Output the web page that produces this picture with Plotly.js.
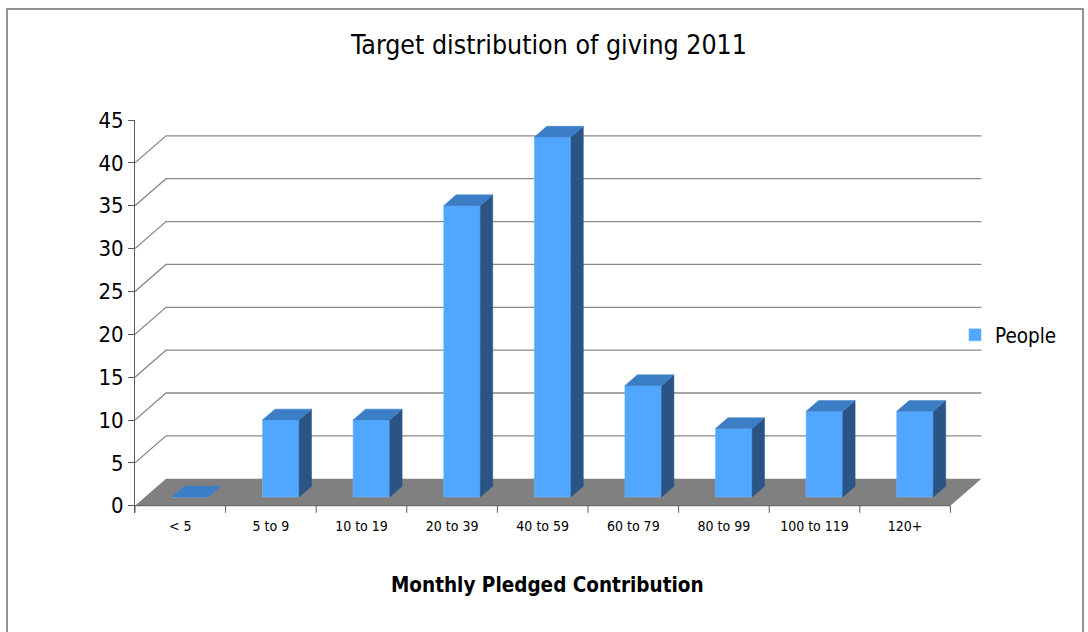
<!DOCTYPE html>
<html>
<head>
<meta charset="utf-8">
<script src="https://cdn.plot.ly/plotly-3.0.1.min.js"></script>
<style>
  html, body { margin: 0; padding: 0; background: #ffffff; }
  #chart { width: 1088px; height: 632px; }
</style>
</head>
<body>
<div id="chart"></div>
<script>
// ---- data ----
const categories = ['< 5', '5 to 9', '10 to 19', '20 to 39', '40 to 59', '60 to 79', '80 to 99', '100 to 119', '120+'];
const people = [0, 9, 9, 34, 42, 13, 8, 10, 10];
const yTickValues = [0, 5, 10, 15, 20, 25, 30, 35, 40, 45];
const backGridValues = [5, 10, 15, 20, 25, 30, 35, 40];
const seriesName = 'People';
const chartTitle = 'Target distribution of giving 2011';
const xTitle = 'Monthly Pledged Contribution';

// ---- geometry (pixels -> axis units) ----
const M = { l: 135, r: 98, t: 120, b: 119 };
const plotW = 1088 - M.l - M.r;
const plotH = 632 - M.t - M.b;
const pxPerX = 90.6;
const yMin = -0.85, yMax = 45;
const pxPerY = plotH / (yMax - yMin);
const xRange = [-0.5, -0.5 + plotW / pxPerX];
const FX = 31 / pxPerX, FY = 27 / pxPerY;       // floor depth
const frontFrac = 0.32, depthFrac = 0.40;        // bar position within depth
const bdx0 = frontFrac * FX, bdy0 = frontFrac * FY;
const bdx = depthFrac * FX, bdy = depthFrac * FY;
const barW = 0.404;
const n = categories.length;
const xIdx = categories.map((c, i) => i);
const xLeft = -0.5, xRight = n - 0.5;

// paper helpers
const pX = px => (px - M.l) / plotW;
const pY = py => (632 - M.b - py) / plotH;

// ---- shapes below traces: floor + back-wall grid ----
const shapes = [];
shapes.push({
  type: 'path', layer: 'below', xref: 'x', yref: 'y',
  path: `M${xLeft},0 L${xRight},0 L${xRight + FX},${FY} L${xLeft + FX},${FY} Z`,
  fillcolor: '#808080', line: { width: 0 }
});
backGridValues.forEach(v => {
  shapes.push({
    type: 'path', layer: 'below', xref: 'x', yref: 'y',
    path: `M${xLeft},${v} L${xLeft + FX},${v + FY} L${xRight + FX},${v + FY}`,
    line: { color: '#8a8a8a', width: 1.3 }
  });
});
// outer frame
shapes.push({
  type: 'path', xref: 'paper', yref: 'paper', layer: 'above',
  path: `M${pX(7)},${pY(700)} L${pX(7)},${pY(9)} L${pX(1083)},${pY(9)} L${pX(1083)},${pY(700)}`,
  line: { color: '#707070', width: 1.5 }
});

// ---- bar faces built from the data ----
const topX = [], topY = [], sideX = [], sideY = [];
people.forEach((v, i) => {
  const x0 = i + bdx0 - barW / 2, x1 = x0 + barW;
  const yb = bdy0, yt = bdy0 + v;
  topX.push(x0, x1, x1 + bdx, x0 + bdx, x0, null);
  topY.push(yt, yt, yt + bdy, yt + bdy, yt, null);
  if (v > 0) {
    sideX.push(x1, x1, x1 + bdx, x1 + bdx, x1, null);
    sideY.push(yb, yt, yt + bdy, yb + bdy, yb, null);
  }
});

// x axis line + tick marks
const axX = [xLeft, xRight, null], axY = [0, 0, null];
for (let k = 0; k <= n; k++) { axX.push(k - 0.5, k - 0.5, null); axY.push(0, -0.82, null); }

const traces = [
  {
    type: 'bar', name: seriesName, x: xIdx, y: people,
    base: bdy0, width: barW, offset: bdx0 - barW / 2,
    marker: { color: '#51a6ff', line: { color: '#72b6f7', width: 0.6 } },
    showlegend: true, hoverinfo: 'y'
  },
  {
    type: 'scatter', mode: 'lines', x: sideX, y: sideY, fill: 'toself',
    fillcolor: '#2a5485', line: { color: '#2a5485', width: 0.5 },
    showlegend: false, hoverinfo: 'skip'
  },
  {
    type: 'scatter', mode: 'lines', x: topX, y: topY, fill: 'toself',
    fillcolor: '#3b7ec6', line: { color: '#3b7ec6', width: 0.5 },
    showlegend: false, hoverinfo: 'skip'
  },
  {
    type: 'scatter', mode: 'lines', x: axX, y: axY,
    line: { color: '#5a5a5a', width: 1 },
    showlegend: false, hoverinfo: 'skip'
  }
];

const FONT = 'DejaVu Sans Condensed, DejaVu Sans, sans-serif';

const layout = {
  width: 1088, height: 632,
  margin: M,
  paper_bgcolor: '#ffffff', plot_bgcolor: '#ffffff',
  font: { family: FONT, color: '#000000' },
  title: {
    text: chartTitle,
    font: { family: FONT, size: 26.5, color: '#000' },
    xref: 'paper', x: pX(549), xanchor: 'center',
    yref: 'container', y: 1 - 45 / 632, yanchor: 'middle'
  },
  xaxis: {
    type: 'linear', range: xRange, fixedrange: true,
    tickmode: 'array', tickvals: xIdx, ticktext: categories,
    ticks: '', showgrid: false, zeroline: false, showline: false,
    tickfont: { size: 14, family: FONT },
    ticklabelstandoff: 3
  },
  yaxis: {
    range: [yMin, yMax], fixedrange: true,
    tickmode: 'array', tickvals: yTickValues,
    ticks: 'outside', ticklen: 6, tickcolor: '#5a5a5a', tickwidth: 1,
    showline: true, linecolor: '#5a5a5a', linewidth: 1,
    showgrid: false, zeroline: false,
    tickfont: { size: 22, family: FONT }
  },
  annotations: [{
    text: '<b>' + xTitle + '</b>',
    xref: 'paper', x: pX(547), xanchor: 'center',
    yref: 'paper', y: pY(585), yanchor: 'middle',
    showarrow: false,
    font: { size: 20.5, family: FONT, color: '#000' }
  }],
  legend: {
    x: pX(955), xanchor: 'left', y: pY(335), yanchor: 'middle',
    font: { size: 20.5, family: FONT },
    bgcolor: 'rgba(0,0,0,0)', borderwidth: 0
  },
  showlegend: true,
  bargap: 0,
  shapes: shapes
};

Plotly.newPlot('chart', traces, layout, { displayModeBar: false, staticPlot: true });
</script>
</body>
</html>
